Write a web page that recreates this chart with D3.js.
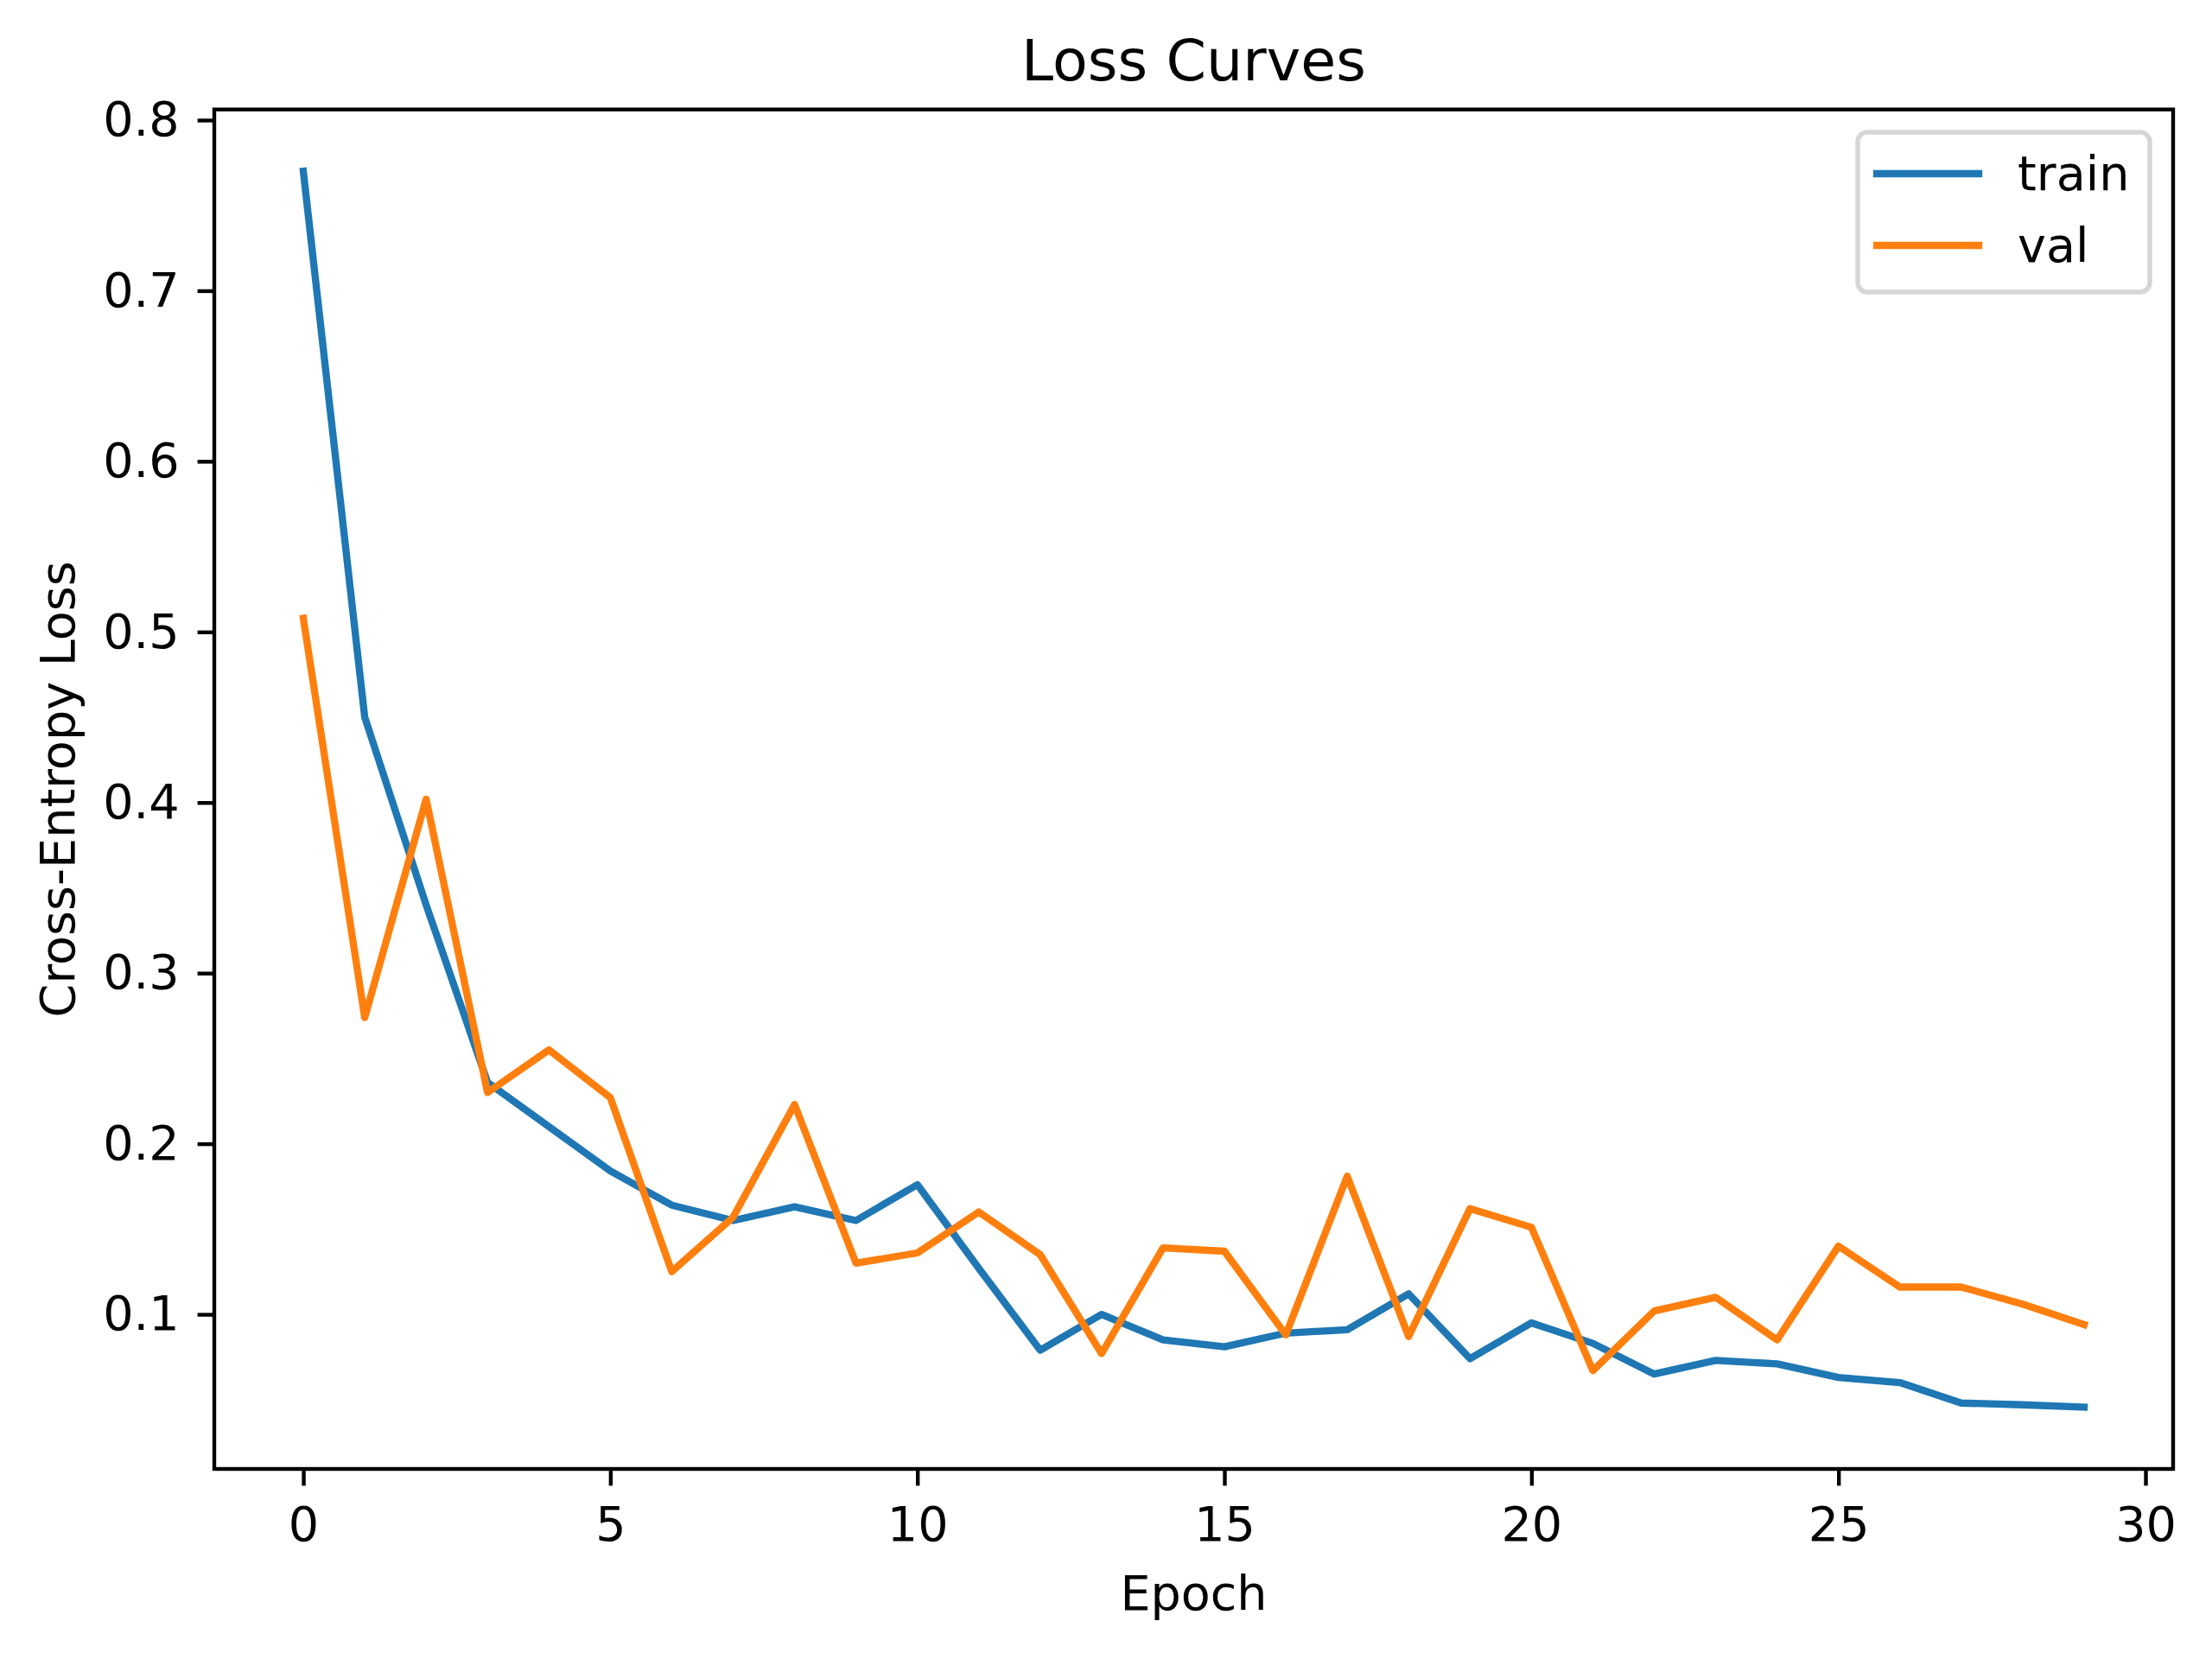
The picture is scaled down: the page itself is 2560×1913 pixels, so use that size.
<!DOCTYPE html>
<html>
<head>
  <meta charset="utf-8">
  <script src="https://cdn.jsdelivr.net/npm/d3@7/dist/d3.min.js"></script>
  <style>
    body { margin: 0; background: #ffffff; }
    svg text { font-family: "DejaVu Sans", sans-serif; fill: #000; }
  </style>
</head>
<body>
<script type="text/javascript">
  "use strict"

  // values
  var epochs = [0, 1, 2, 3, 4, 5, 6, 7, 8, 9, 10, 11, 12, 13, 14,
                15, 16, 17, 18, 19, 20, 21, 22, 23, 24, 25, 26, 27, 28, 29];
  var trainLoss = [0.770, 0.450, 0.340, 0.236, 0.210, 0.184, 0.164, 0.155, 0.163, 0.155,
                   0.176, 0.127, 0.079, 0.100, 0.085, 0.081, 0.089, 0.091, 0.112, 0.074,
                   0.095, 0.083, 0.065, 0.073, 0.071, 0.063, 0.060, 0.048, 0.047, 0.0456];
  var valLoss = [0.508, 0.274, 0.402, 0.230, 0.255, 0.227, 0.125, 0.157, 0.223, 0.130,
                 0.136, 0.160, 0.135, 0.077, 0.139, 0.137, 0.088, 0.181, 0.087, 0.162,
                 0.151, 0.067, 0.102, 0.110, 0.085, 0.140, 0.116, 0.116, 0.106, 0.094];
  var xTicks = [0, 5, 10, 15, 20, 25, 30];
  var yTicks = [0.1, 0.2, 0.3, 0.4, 0.5, 0.6, 0.7, 0.8];
  var seriesNames = ["train", "val"];
  var seriesColors = ["#1f77b4", "#ff7f0e"];

  var W = 2560, H = 1913;
  var plot = {left: 248, right: 2515, top: 126.7, bottom: 1700};
  var fontPx = 55.6;

  var svg = d3.select("body").append("svg")
      .attr("width", W)
      .attr("height", H);

  svg.append("rect").attr("width", W).attr("height", H).attr("fill", "#fff");

  // matplotlib style 5% margins
  function padded(lo, hi) {
    var r = hi - lo;
    return [lo - 0.05 * r, hi + 0.05 * r];
  }
  var allLoss = trainLoss.concat(valLoss);
  var x = d3.scaleLinear()
      .domain(padded(d3.min(epochs), d3.max(epochs)))
      .range([plot.left, plot.right]);
  var y = d3.scaleLinear()
      .domain(padded(d3.min(allLoss), d3.max(allLoss)))
      .range([plot.bottom, plot.top]);

  // axes
  var xAxis = svg.append("g")
      .attr("transform", "translate(0," + plot.bottom + ")")
      .call(d3.axisBottom(x).tickValues(xTicks).tickSize(19.4).tickSizeOuter(0).tickPadding(24)
              .tickFormat(d3.format("d")));
  var yAxis = svg.append("g")
      .attr("transform", "translate(" + plot.left + ",0)")
      .call(d3.axisLeft(y).tickValues(yTicks).tickSize(19.4).tickSizeOuter(0).tickPadding(21)
              .tickFormat(d3.format(".1f")));

  [xAxis, yAxis].forEach(function(a) {
    a.select(".domain").remove();
    a.selectAll(".tick line").attr("stroke", "#000").attr("stroke-width", 4.4);
    a.selectAll(".tick text")
      .style("font-size", fontPx + "px")
      .style("font-family", "'DejaVu Sans', sans-serif")
      .attr("fill", "#000");
  });

  // lines
  var line = d3.line()
      .x(function(d, i) { return x(epochs[i]); })
      .y(function(d) { return y(d); });

  [trainLoss, valLoss].forEach(function(s, k) {
    svg.append("path")
      .datum(s)
      .attr("fill", "none")
      .attr("stroke", seriesColors[k])
      .attr("stroke-width", 8.33)
      .attr("stroke-linecap", "square")
      .attr("stroke-linejoin", "round")
      .attr("d", line);
  });

  // spines
  svg.append("rect")
    .attr("x", plot.left)
    .attr("y", plot.top)
    .attr("width", plot.right - plot.left)
    .attr("height", plot.bottom - plot.top)
    .attr("fill", "none")
    .attr("stroke", "#000")
    .attr("stroke-width", 4.4);

  // title and axis labels
  svg.append("text")
    .attr("x", (plot.left + plot.right) / 2)
    .attr("y", 93)
    .attr("text-anchor", "middle")
    .style("font-size", "66.7px")
    .text("Loss Curves");

  svg.append("text")
    .attr("x", (plot.left + plot.right) / 2)
    .attr("y", 1863)
    .attr("text-anchor", "middle")
    .style("font-size", fontPx + "px")
    .text("Epoch");

  svg.append("text")
    .attr("transform", "translate(86," + ((plot.top + plot.bottom) / 2) + ") rotate(-90)")
    .attr("text-anchor", "middle")
    .style("font-size", fontPx + "px")
    .text("Cross-Entropy Loss");

  // legend
  var legend = svg.append("g");
  legend.append("rect")
    .attr("x", 2150).attr("y", 153)
    .attr("width", 338).attr("height", 185)
    .attr("rx", 11).attr("ry", 11)
    .attr("fill", "rgba(255,255,255,0.8)")
    .attr("stroke", "#d6d6d6")
    .attr("stroke-width", 5.5);

  var entries = legend.selectAll("g.entry")
      .data(seriesNames)
      .enter().append("g")
      .attr("class", "entry")
      .attr("transform", function(d, i) { return "translate(0," + (201 + i * 83) + ")"; });

  entries.append("line")
    .attr("x1", 2172).attr("x2", 2290)
    .attr("y1", 0).attr("y2", 0)
    .attr("stroke", function(d, i) { return seriesColors[i]; })
    .attr("stroke-width", 8.33)
    .attr("stroke-linecap", "square");

  entries.append("text")
    .attr("x", 2335)
    .attr("y", 19)
    .style("font-size", fontPx + "px")
    .text(function(d) { return d; });
</script>
</body>
</html>
